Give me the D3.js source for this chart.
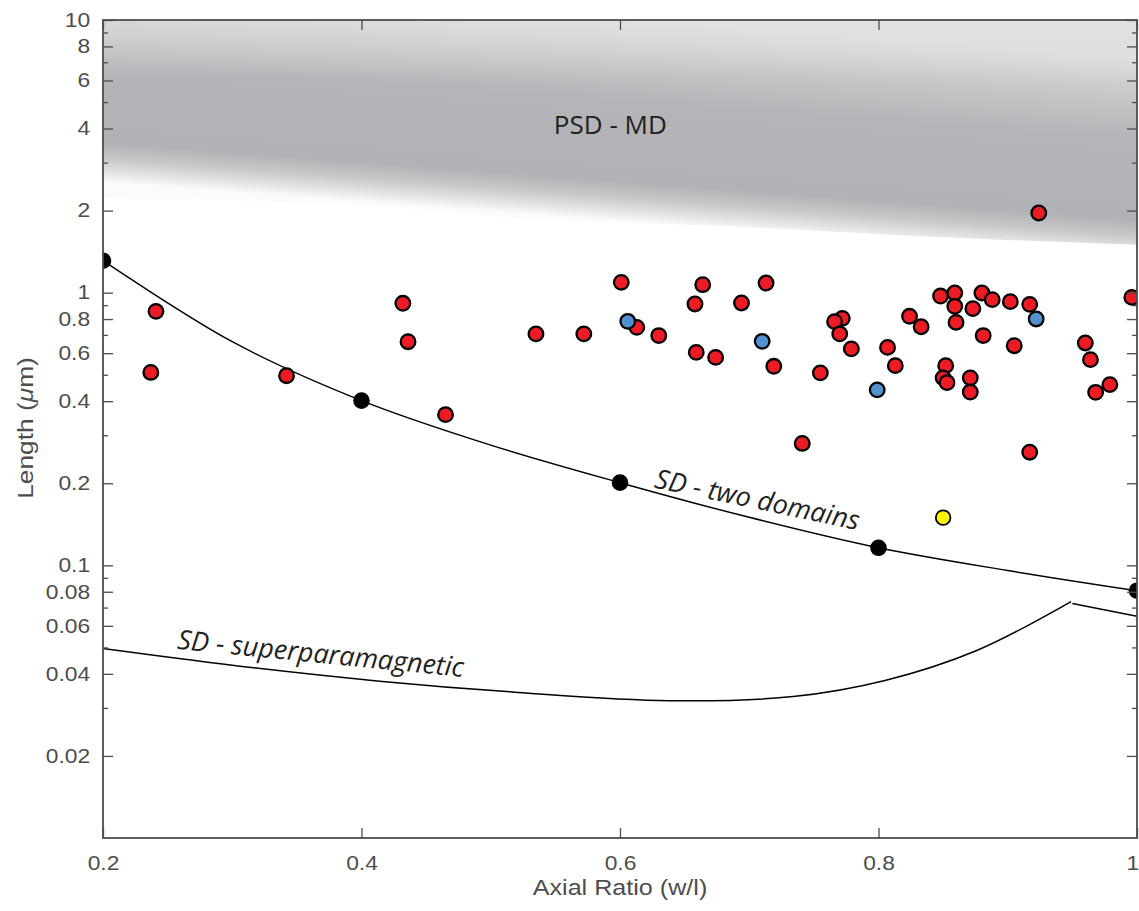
<!DOCTYPE html>
<html>
<head>
<meta charset="utf-8">
<script src="https://cdn.jsdelivr.net/npm/d3@7"></script>
<style>
  body { margin: 0; background: #fff; }
  .tick text { font-family: 'Liberation Sans', Arial, sans-serif; fill: #4d4d4d; }
  .axis-label { font-family: 'Liberation Sans', Arial, sans-serif; fill: #4d4d4d; font-size: 21.5px; }
  .note { font-family: 'Open Sans', 'Noto Sans', sans-serif; fill: #231f20; }
</style>
</head>
<body>
<svg id="chart"></svg>
<script>

// =========================
// DATA
// =========================

// grains: axial ratio (w/l) and length (um)
const redX = [0.241, 0.237, 0.342, 0.432, 0.436, 0.465, 0.535, 0.572, 0.601, 0.613,
  0.630, 0.664, 0.658, 0.659, 0.674, 0.694, 0.713, 0.719, 0.772, 0.766,
  0.770, 0.779, 0.755, 0.741, 0.924, 0.824, 0.833, 0.848, 0.859, 0.859,
  0.860, 0.873, 0.880, 0.888, 0.881, 0.902, 0.917, 0.905, 0.807, 0.813,
  0.852, 0.850, 0.853, 0.871, 0.871, 0.960, 0.964, 0.968, 0.979, 0.917,
  0.996];
const redY = [0.854, 0.510, 0.496, 0.914, 0.661, 0.357, 0.706, 0.706, 1.091, 0.746,
  0.696, 1.070, 0.909, 0.604, 0.579, 0.917, 1.085, 0.537, 0.805, 0.783,
  0.706, 0.622, 0.508, 0.280, 1.960, 0.819, 0.750, 0.972, 0.997, 0.891,
  0.778, 0.874, 0.997, 0.943, 0.696, 0.927, 0.906, 0.639, 0.630, 0.540,
  0.540, 0.487, 0.468, 0.487, 0.432, 0.654, 0.568, 0.431, 0.460, 0.260,
  0.961];

const blueX = [0.606, 0.710, 0.922, 0.799];
const blueY = [0.785, 0.663, 0.801, 0.440];

const yellowX = [0.850];
const yellowY = [0.1496];

// SD - two domains boundary (black markers sit on it)
const blackX = [0.2, 0.4, 0.6, 0.8, 1.0];
const blackY = [1.31, 0.402, 0.201, 0.116, 0.0807];

const twoDomX = [0.2, 0.3, 0.4, 0.5, 0.6, 0.7, 0.8, 0.9, 1.0];
const twoDomY = [1.31, 0.661, 0.402, 0.276, 0.201, 0.150, 0.116, 0.0957, 0.0807];

// SD - superparamagnetic boundary
const spX = [0.2, 0.3, 0.414, 0.521, 0.638, 0.734, 0.805, 0.876, 0.949];
const spY = [0.0495, 0.043, 0.0376, 0.0342, 0.0319, 0.0330, 0.0378, 0.0487, 0.0736];

const branchX = [0.95, 1.0];
const branchY = [0.0724, 0.065];

// lower edge of the PSD - MD band
const bandX = [0.2, 0.43, 0.495, 0.72, 0.82, 1.0];
const bandLow = [2.23, 2.05, 1.92, 1.72, 1.62, 1.50];

const xTicks = [0.2, 0.4, 0.6, 0.8, 1];
const yTicks = [0.02, 0.04, 0.06, 0.08, 0.1, 0.2, 0.4, 0.6, 0.8, 1, 2, 4, 6, 8, 10];
const yMinor = [0.03, 0.05, 0.07, 0.09, 0.3, 0.5, 0.7, 0.9, 3, 5, 7, 9];

// =========================
// CHART
// =========================

const width = 1139;
const height = 911;

const margin = { top: 20, right: 2, bottom: 73, left: 103 };

const svg = d3.select('#chart')
  .attr('width', width)
  .attr('height', height);

const x = d3.scaleLinear()
  .domain([0.2, 1])
  .range([margin.left, width - margin.right]);

const y = d3.scaleLog()
  .domain([0.01, 10])
  .range([height - margin.bottom, margin.top]);

const zip = (xs, ys) => xs.map((v, i) => [v, ys[i]]);

const defs = svg.append('defs');

defs.append('clipPath')
  .attr('id', 'plot-clip')
  .append('rect')
  .attr('x', x(0.2))
  .attr('y', y(10))
  .attr('width', x(1) - x(0.2))
  .attr('height', y(0.01) - y(10));

// gradient runs across the tilted band
const tilt = 0.075;
const gx = x(0.6);
const gTop = y(10);
const gLen = 200;

const grad = defs.append('linearGradient')
  .attr('id', 'band-grad')
  .attr('gradientUnits', 'userSpaceOnUse')
  .attr('x1', gx)
  .attr('y1', gTop)
  .attr('x2', gx - tilt * gLen)
  .attr('y2', gTop + gLen);

[[0, '#dcdddf'], [0.2, '#c5c6c8'], [0.4, '#b3b5b8'], [0.8, '#b0b2b5'],
 [0.88, '#c6c7c9'], [0.96, '#e8e8e9'], [1.04, '#fbfbfb']]
  .forEach(([o, c]) => {
    grad.append('stop').attr('offset', Math.min(o, 1)).attr('stop-color', c);
  });

// top of the band is lighter across the whole width
const topGrad = defs.append('linearGradient')
  .attr('id', 'top-grad')
  .attr('x1', 0).attr('y1', 0)
  .attr('x2', 0).attr('y2', 1);
topGrad.append('stop').attr('offset', 0).attr('stop-color', '#e2e3e4').attr('stop-opacity', 0.6);
topGrad.append('stop').attr('offset', 1).attr('stop-color', '#e2e3e4').attr('stop-opacity', 0);

const plot = svg.append('g').attr('clip-path', 'url(#plot-clip)');

// PSD - MD band
const area = d3.area()
  .x(d => x(d[0]))
  .y0(y(10))
  .y1(d => y(d[1]))
  .curve(d3.curveMonotoneX);

plot.append('path')
  .datum(zip(bandX, bandLow))
  .attr('d', area)
  .attr('fill', 'url(#band-grad)');

plot.append('rect')
  .attr('x', x(0.2))
  .attr('y', y(10))
  .attr('width', x(1) - x(0.2))
  .attr('height', y(6) - y(10))
  .attr('fill', 'url(#top-grad)');

// boundary curves
const line = d3.line()
  .x(d => x(d[0]))
  .y(d => y(d[1]))
  .curve(d3.curveCatmullRom.alpha(0.5));

[zip(twoDomX, twoDomY), zip(spX, spY), zip(branchX, branchY)].forEach(pts => {
  plot.append('path')
    .datum(pts)
    .attr('d', line)
    .attr('fill', 'none')
    .attr('stroke', '#000')
    .attr('stroke-width', 1.5);
});

// markers
plot.selectAll('.black')
  .data(zip(blackX, blackY))
  .enter()
  .append('circle')
  .attr('cx', d => x(d[0]))
  .attr('cy', d => y(d[1]))
  .attr('r', 8.3)
  .attr('fill', '#000');

function dots(pts, fill, sw) {
  plot.selectAll(null)
    .data(pts)
    .enter()
    .append('circle')
    .attr('cx', d => x(d[0]))
    .attr('cy', d => y(d[1]))
    .attr('r', 7.3)
    .attr('fill', fill)
    .attr('stroke', '#000')
    .attr('stroke-width', sw);
}

dots(zip(redX, redY), '#ed1c24', 2.3);
dots(zip(blueX, blueY), '#5291cf', 2.3);
dots(zip(yellowX, yellowY), '#fff200', 1.8);

// =========================
// AXES
// =========================

const stretch = 'scale(1.17,1)';
const axisColor = '#4d4d4d';

function styleAxis(g) {
  g.select('.domain').remove();
  g.selectAll('.tick line').attr('stroke', axisColor).attr('stroke-width', 1.3);
  g.selectAll('.tick text').style('font-size', '19.5px').attr('transform', stretch);
}

const xAxis = svg.append('g')
  .attr('transform', `translate(0, ${y(0.01)})`)
  .call(d3.axisBottom(x).tickValues(xTicks).tickSize(-10).tickPadding(18).tickFormat(String))
  .call(styleAxis);

// keep the last label inside the picture
xAxis.selectAll('.tick text')
  .filter(d => d === 1)
  .attr('x', -4);

svg.append('g')
  .attr('transform', `translate(0, ${y(10)})`)
  .call(d3.axisTop(x).tickValues(xTicks).tickSize(-10).tickFormat(''))
  .call(styleAxis);

svg.append('g')
  .attr('transform', `translate(${x(0.2)}, 0)`)
  .call(d3.axisLeft(y).tickValues(yTicks).tickSize(-10).tickPadding(11).tickFormat(String))
  .call(styleAxis);

svg.append('g')
  .attr('transform', `translate(${x(0.2)}, 0)`)
  .call(d3.axisLeft(y).tickValues(yMinor).tickSize(-5).tickFormat(''))
  .call(styleAxis);

svg.append('g')
  .attr('transform', `translate(${x(1)}, 0)`)
  .call(d3.axisRight(y).tickValues(yTicks).tickSize(-10).tickFormat(''))
  .call(styleAxis);

svg.append('g')
  .attr('transform', `translate(${x(1)}, 0)`)
  .call(d3.axisRight(y).tickValues(yMinor).tickSize(-5).tickFormat(''))
  .call(styleAxis);

svg.append('rect')
  .attr('x', x(0.2))
  .attr('y', y(10))
  .attr('width', x(1) - x(0.2))
  .attr('height', y(0.01) - y(10))
  .attr('fill', 'none')
  .attr('stroke', axisColor)
  .attr('stroke-width', 1.8);

svg.append('text')
  .attr('class', 'axis-label')
  .attr('text-anchor', 'middle')
  .attr('transform', `translate(${x(0.6)}, 895) ${stretch}`)
  .text('Axial Ratio (w/l)');

const yLabel = svg.append('text')
  .attr('class', 'axis-label')
  .attr('text-anchor', 'middle')
  .style('font-size', '22.5px')
  .attr('transform', `translate(33, 428) rotate(-90) ${stretch}`);
yLabel.append('tspan').text('Length (');
yLabel.append('tspan').style('font-style', 'italic').text('\u03bc');
yLabel.append('tspan').text('m)');

// =========================
// ANNOTATIONS
// =========================

svg.append('text')
  .attr('class', 'note')
  .attr('x', x(0.5925))
  .attr('y', y(3.83))
  .attr('text-anchor', 'middle')
  .style('font-size', '26px')
  .text('PSD - MD');

svg.append('text')
  .attr('class', 'note')
  .attr('transform', `translate(${x(0.626)}, ${y(0.193)}) rotate(11.8)`)
  .style('font-size', '27px')
  .style('font-style', 'italic')
  .text('SD - two domains');

svg.append('text')
  .attr('class', 'note')
  .attr('transform', `translate(${x(0.257)}, ${y(0.0494)}) rotate(5.6)`)
  .style('font-size', '27px')
  .style('font-style', 'italic')
  .text('SD - superparamagnetic');

</script>
</body>
</html>
